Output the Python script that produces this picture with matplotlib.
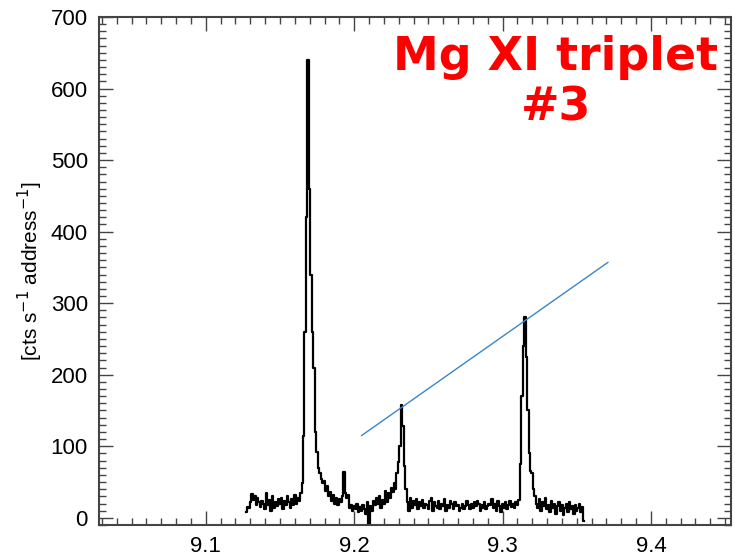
import numpy as np
import matplotlib
matplotlib.use("Agg")
import matplotlib.pyplot as plt
from matplotlib.ticker import MultipleLocator

# spectrum: counts per 0.001 A bin, starting at 9.127 A
wl_start = 9.127
wl_step = 0.001
counts = [
    8, 15, 14, 22, 33, 25, 30, 18, 28, 22,
    15, 24, 20, 12, 35, 18, 25, 10, 30, 14,
    22, 16, 27, 20, 28, 12, 24, 18, 30, 22,
    14, 26, 18, 32, 20, 28, 24, 34, 48, 115,
    260, 420, 640, 460, 340, 260, 210, 120, 92, 70,
    62, 54, 48, 52, 38, 44, 30, 36, 24, 32,
    20, 28, 18, 26, 22, 30, 64, 34, 28, 32,
    14, 18, 10, 16, 12, 20, 8, 15, 10, 18,
    12, 6, 22, -8, 16, 10, 24, 18, 28, 20,
    30, 14, 25, 20, 38, 22, 34, 28, 42, 36,
    48, 40, 62, 78, 100, 158, 128, 72, 40, 22,
    10, 28, 14, 24, 18, 26, 12, 22, 16, 25,
    14, 20, 18, 12, 24, 28, 10, 22, 16, 14,
    24, 12, 20, 16, 26, 10, 18, 14, 24, 20,
    12, 22, 16, 18, 10, 14, 20, 12, 16, 24,
    18, 12, 20, 14, 22, 16, 24, 20, 10, 18,
    14, 22, 12, 16, 20, 18, 26, 14, 20, 10,
    24, 16, 8, 20, 14, 22, 12, 18, 24, 15,
    20, 14, 22, 18, 25, 75, 170, 240, 280, 225,
    150, 90, 66, 62, 40, 30, 20, 14, 26, 10,
    22, 16, 28, 12, 18, 8, 24, 14, 20, 6,
    16, 22, 10, 18, 4, 14, 20, 8, 22, 12,
    16, 6, 18, 10, 14, 20, 8, 15, -5,
]
wavelength = wl_start + wl_step * np.arange(len(counts))

# blue line touching the tops of the lines
guide_x = [9.205, 9.371]
guide_y = [115, 357]

x_ticks = [9.1, 9.2, 9.3, 9.4]
y_ticks = [0, 100, 200, 300, 400, 500, 600, 700]

plt.rcParams['font.family'] = ['Liberation Sans', 'DejaVu Sans']

fig = plt.figure(figsize=(7.35, 5.57), dpi=100)
ax = fig.add_axes([0.1347, 0.0575, 0.8599, 0.912])

ax.step(wavelength, counts, where='mid', color='black', lw=1.6)
ax.plot(guide_x, guide_y, color='#3a86c8', lw=1.0)

ax.set_xlim(9.028, 9.454)
ax.set_ylim(-10, 700)
ax.set_xticks(x_ticks)
ax.set_xticklabels([f"{t:.1f}" for t in x_ticks])
ax.set_yticks(y_ticks)
ax.xaxis.set_minor_locator(MultipleLocator(0.01))
ax.yaxis.set_minor_locator(MultipleLocator(10))
ax.tick_params(which='both', direction='in', top=True, right=True,
               color='#444444', labelsize=16, width=1.0)
ax.tick_params(which='major', length=10, pad=8)
ax.tick_params(which='minor', length=5)
for s in ax.spines.values():
    s.set_linewidth(1.5)
    s.set_color('#444444')

ax.set_ylabel(r"[cts s$^{-1}$ address$^{-1}$]", fontsize=15, labelpad=4)

ax.text(0.723, 0.965, "Mg XI triplet\n#3", transform=ax.transAxes,
        ha='center', va='top', color='red', fontsize=33,
        fontweight='bold', linespacing=1.15, family='DejaVu Sans')

fig.savefig("out.png", dpi=100)
